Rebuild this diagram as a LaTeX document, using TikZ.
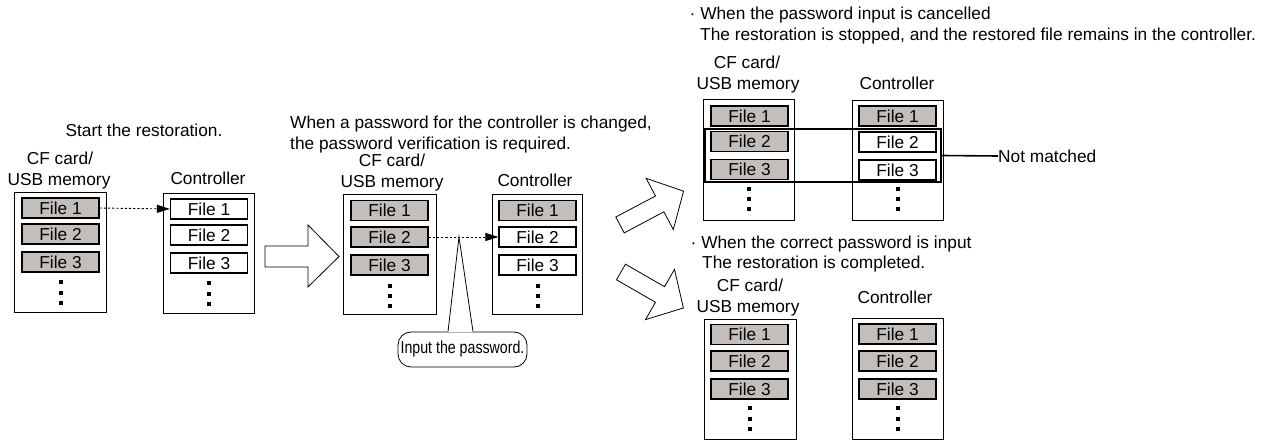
\documentclass[tikz,border=0pt]{standalone}
\usepackage{fontspec}
\setmainfont{Liberation Sans}
\usepackage{graphicx}
\usetikzlibrary{arrows.meta}
\definecolor{filegray}{RGB}{196,190,187}
\newcommand\filedots[4]{%
  \foreach \yy in {#2,#3,#4} {\fill ({#1-1.8},{\yy-1.8}) rectangle ++(3.6,3.6);}}
\begin{document}
\begin{tikzpicture}[x=1pt,y=-1pt,
  lbl/.style={inner sep=0pt, font=\fontsize{17.3}{20}\selectfont, text height=12.4pt, text depth=0pt},
  container/.style={draw, line width=0.8pt, fill=white, inner sep=0pt, minimum height=120pt},
  filebox/.style={draw, line width=1.2pt, inner sep=0pt, minimum width=77pt, minimum height=20pt,
    font=\fontsize{17.3}{20}\selectfont, text height=12.4pt, text depth=0pt},
  gfile/.style={filebox, fill=filegray},
  wfile/.style={filebox, fill=white},
  bigarrow/.style={draw, line width=0.8pt, fill=white, line join=miter},
  transfer/.style={line width=0.9pt, dash pattern=on 2.2pt off 2pt, -{Triangle[length=13pt,width=8pt]}},
]
\useasboundingbox (0,0) rectangle (1270,441);

% ---------- Panel 1 ----------
\node[lbl] (t1) at (144,130) {Start the restoration.};
\node[lbl] (p1cfa) at (60,158) {CF card/};
\node[lbl] (p1cfb) at (59,179) {USB memory};
\node[lbl] (p1ctl) at (208,178) {Controller};
\node[container, minimum width=92pt] (p1cf) at (60,252) {};
\node[container, minimum width=91pt] (p1ct) at (208.5,253) {};
\node[gfile] (p1cf1) at (60.5,208) {File 1};
\node[gfile] (p1cf2) at (60.5,234) {File 2};
\node[gfile] (p1cf3) at (60.5,262) {File 3};
\node[wfile] (p1ct1) at (209,209) {File 1};
\node[wfile] (p1ct2) at (209,235) {File 2};
\node[wfile] (p1ct3) at (209,263) {File 3};
\filedots{61}{282}{293}{303}
\filedots{209}{283}{294}{304}
\draw[transfer] (p1cf1.east) -- (p1ct1.west);

% big arrow 1
\draw[bigarrow] (265,246) -- (308,246) -- (308,225) -- (339,256.5) -- (308,287) -- (308,267) -- (265,267) -- cycle;

% ---------- Panel 2 ----------
\node[lbl, anchor=west] (t2a) at (290,122) {When a password for the controller is changed,};
\node[lbl, anchor=west] (t2b) at (290,143) {the password verification is required.};
\node[lbl] (p2cfa) at (392,160) {CF card/};
\node[lbl] (p2cfb) at (392,181) {USB memory};
\node[lbl] (p2ctl) at (535,180) {Controller};
\node[container, minimum width=93pt] (p2cf) at (389.5,254) {};
\node[container, minimum width=90pt] (p2ct) at (537,254) {};
\node[gfile] (p2cf1) at (389.5,210.5) {File 1};
\node[gfile] (p2cf2) at (389.5,237) {File 2};
\node[gfile] (p2cf3) at (389.5,265) {File 3};
\node[gfile] (p2ct1) at (537.5,210.5) {File 1};
\node[wfile] (p2ct2) at (537.5,237) {File 2};
\node[wfile] (p2ct3) at (537.5,265) {File 3};
\filedots{390}{286}{296}{306}
\filedots{538}{286}{296}{306}
\draw[transfer] (p2cf2.east) -- (p2ct2.west);

% callout
\coordinate (apex) at (459,237);
\node[draw, line width=0.8pt, rounded corners=13pt, fill=white, inner sep=0pt,
  minimum width=129pt, minimum height=35pt] (cb) at (462.5,349.5)
  {\fontsize{17.3}{20}\selectfont\scalebox{0.82}[1]{Input the password.}};
\fill[white] ([xshift=-15pt,yshift=-0.6pt]cb.north) -- (apex) -- ([xshift=11pt,yshift=-0.6pt]cb.north) -- cycle;
\draw[line width=0.8pt] ([xshift=-14.5pt]cb.north) -- (apex) -- ([xshift=10.5pt]cb.north);

% diagonal arrows
\draw[bigarrow] (615.8,217.0) -- (655.5,196.0) -- (646.1,178.3) -- (683.6,191.2) -- (673.3,229.5) -- (663.9,211.8) -- (624.2,232.9) -- cycle;
\draw[bigarrow] (625.5,264.2) -- (664.5,286.7) -- (674.5,269.4) -- (683.4,308) -- (645.5,319.6) -- (655.5,302.3) -- (616.5,279.8) -- cycle;

% ---------- Panel 3 ----------
\node[lbl, anchor=west] (t3a) at (689.5,13) {· When the password input is cancelled};
\node[lbl, anchor=west] (t3b) at (700,34) {The restoration is stopped, and the restored file remains in the controller.};
\node[lbl] (p3cfa) at (747,62) {CF card/};
\node[lbl] (p3cfb) at (748,83) {USB memory};
\node[lbl] (p3ctl) at (897,83) {Controller};
\node[container, minimum width=91pt, minimum height=121pt] (p3cf) at (748.5,159.5) {};
\node[container, minimum width=91pt] (p3ct) at (897.5,160) {};
\node[gfile] (p3cf1) at (749.5,116) {File 1};
\node[gfile] (p3cf2) at (749.5,141.5) {File 2};
\node[gfile] (p3cf3) at (749.5,169.5) {File 3};
\node[gfile] (p3ct1) at (897.5,116) {File 1};
\node[wfile] (p3ct2) at (897.5,142) {File 2};
\node[wfile] (p3ct3) at (897.5,170) {File 3};
\filedots{749}{189}{199}{209}
\filedots{898}{189}{199}{209}
\node[draw, line width=2pt, inner sep=0pt, minimum width=236pt, minimum height=53pt] (nm) at (823,155.5) {};
\node[lbl, anchor=west] (nmlbl) at (998,156) {Not matched};
\draw[line width=1.6pt] (nm.east) -- (nmlbl.west);

% ---------- Panel 4 ----------
\node[lbl, anchor=west] (t4a) at (690.5,242) {· When the correct password is input};
\node[lbl, anchor=west] (t4b) at (702,262) {The restoration is completed.};
\node[lbl] (p4cfa) at (750,285) {CF card/};
\node[lbl] (p4cfb) at (748,306) {USB memory};
\node[lbl] (p4ctl) at (895,297) {Controller};
\node[container, minimum width=92pt] (p4cf) at (750,379) {};
\node[container, minimum width=91pt, minimum height=121pt] (p4ct) at (897.5,378.5) {};
\node[gfile] (p4cf1) at (749.5,334.5) {File 1};
\node[gfile] (p4cf2) at (749.5,361) {File 2};
\node[gfile] (p4cf3) at (749.5,389) {File 3};
\node[gfile] (p4ct1) at (897.5,334) {File 1};
\node[gfile] (p4ct2) at (897.5,361) {File 2};
\node[gfile] (p4ct3) at (897.5,389) {File 3};
\filedots{750}{408}{419}{429}
\filedots{898}{408}{419}{429}
\end{tikzpicture}
\end{document}
